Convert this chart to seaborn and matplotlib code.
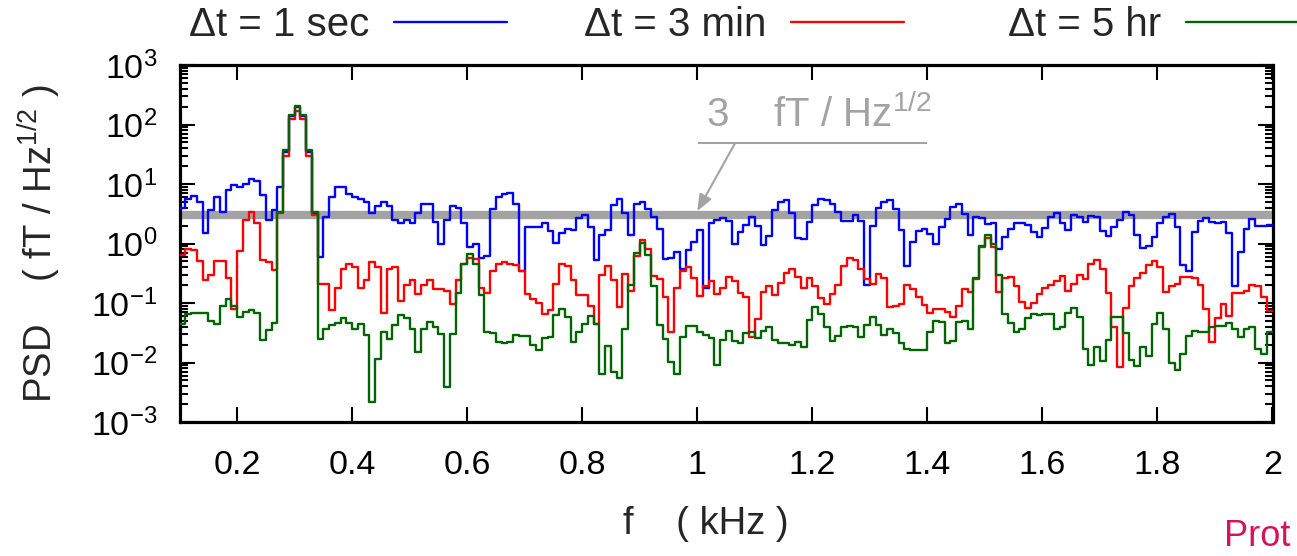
import numpy as np
import pandas as pd
import matplotlib
matplotlib.use("Agg")
import matplotlib.pyplot as plt
import seaborn as sns
from matplotlib.lines import Line2D
from matplotlib.ticker import FixedLocator, FuncFormatter, LogLocator, NullFormatter

# ---------------------------------------------------------------- data
# spectrum bins: 0.01 kHz wide, left edges from 0.10 to 1.99 kHz
f_first, f_last, n_bins = 0.10, 2.00, 190

series_labels = ["Δt = 1 sec", "Δt = 3 min", "Δt = 5 hr"]
series_colors = ["#0000ff", "#ff0000", "#006400"]

psd_1sec = [
    4.0, 5.5, 6.3, 5.0, 1.5, 3.7, 6.1, 3.4, 7.9, 9.6,
    9.0, 10, 12, 11.4, 6.5, 2.5, 3.7, 8.8, 35, 140,
    200, 140, 35, 3.3, 0.60, 2.8, 6.1, 8.8, 8.8, 6.8,
    6.1, 5.7, 5.0, 3.3, 4.2, 4.9, 4.2, 2.5, 2.2, 2.5,
    2.2, 3.2, 4.7, 4.7, 2.3, 1.0, 2.5, 4.3, 3.9, 2.2,
    0.86, 0.98, 0.58, 0.62, 3.75, 6.1, 6.8, 7.15, 4.6, 0.34,
    1.9, 1.9, 1.87, 2.2, 1.64, 1.03, 1.52, 1.73, 1.69, 2.65,
    3.0, 1.9, 0.53, 1.39, 1.69, 4.4, 5.5, 3.2, 1.39, 4.6,
    4.9, 3.75, 2.8, 1.73, 0.54, 0.58, 0.73, 0.37, 0.78, 1.07,
    1.69, 0.18, 2.2, 2.5, 2.65, 2.4, 1.0, 1.55, 2.05, 2.75,
    1.97, 0.94, 1.34, 3.7, 5.0, 5.3, 3.3, 1.22, 1.18, 2.3,
    4.4, 5.5, 5.3, 4.7, 3.4, 2.4, 2.4, 3.0, 2.4, 0.2,
    1.97, 3.9, 5.0, 5.4, 3.75, 1.69, 0.42, 1.07, 1.64, 1.73,
    1.44, 1.0, 1.87, 2.55, 4.05, 4.7, 3.1, 1.39, 2.75, 2.65,
    2.13, 2.2, 0.8, 1.3, 1.73, 2.25, 2.25, 2.05, 1.58, 1.3,
    1.8, 2.75, 3.3, 2.25, 1.69, 3.0, 2.8, 2.3, 2.9, 2.75,
    1.64, 1.34, 1.87, 2.5, 3.4, 3.0, 1.39, 0.83, 0.91, 1.27,
    2.25, 2.8, 3.1, 1.9, 0.44, 0.34, 1.58, 2.4, 2.65, 2.3,
    2.25, 2.3, 1.52, 0.19, 0.73, 1.73, 2.55, 1.97, 1.97, 2.05,
]

psd_3min = [
    0.64, 0.80, 0.78, 0.50, 0.24, 0.30, 0.51, 0.51, 0.26, 0.078,
    0.76, 2.5, 3.4, 2.2, 0.53, 0.48, 0.36, 3.2, 30, 125,
    170, 125, 30, 3.0, 0.21, 0.21, 0.076, 0.18, 0.37, 0.45,
    0.41, 0.18, 0.24, 0.49, 0.41, 0.067, 0.37, 0.40, 0.11, 0.20,
    0.24, 0.14, 0.20, 0.24, 0.17, 0.17, 0.16, 0.098, 0.24, 0.46,
    0.58, 0.54, 0.18, 0.15, 0.34, 0.45, 0.48, 0.46, 0.43, 0.35,
    0.14, 0.115, 0.10, 0.065, 0.076, 0.21, 0.45, 0.42, 0.24, 0.136,
    0.136, 0.089, 0.044, 0.30, 0.42, 0.24, 0.087, 0.31, 0.16, 0.62,
    1.15, 0.80, 0.28, 0.25, 0.128, 0.032, 0.177, 0.35, 0.41, 0.26,
    0.13, 0.19, 0.23, 0.14, 0.177, 0.27, 0.23, 0.15, 0.128, 0.027,
    0.053, 0.155, 0.19, 0.136, 0.22, 0.32, 0.37, 0.27, 0.18, 0.26,
    0.19, 0.12, 0.096, 0.142, 0.20, 0.42, 0.58, 0.53, 0.38, 0.25,
    0.21, 0.31, 0.26, 0.085, 0.089, 0.096, 0.20, 0.17, 0.125, 0.092,
    0.067, 0.078, 0.078, 0.071, 0.059, 0.089, 0.17, 0.155, 0.25, 0.86,
    1.22, 0.86, 0.155, 0.26, 0.27, 0.19, 0.105, 0.081, 0.10, 0.142,
    0.177, 0.20, 0.23, 0.28, 0.16, 0.21, 0.30, 0.25, 0.45, 0.53,
    0.37, 0.15, 0.04, 0.0085, 0.081, 0.19, 0.26, 0.32, 0.43, 0.51,
    0.40, 0.155, 0.19, 0.21, 0.27, 0.27, 0.26, 0.20, 0.078, 0.0225,
    0.057, 0.096, 0.06, 0.149, 0.149, 0.16, 0.20, 0.19, 0.128, 0.074,
]

psd_5hr = [
    0.045, 0.065, 0.068, 0.068, 0.068, 0.05, 0.045, 0.089, 0.115, 0.089,
    0.059, 0.071, 0.076, 0.068, 0.024, 0.035, 0.046, 3.4, 37, 145,
    205, 145, 37, 3.4, 0.0245, 0.036, 0.043, 0.047, 0.057, 0.047,
    0.037, 0.045, 0.029, 0.0022, 0.0113, 0.032, 0.025, 0.043, 0.063, 0.057,
    0.036, 0.015, 0.036, 0.048, 0.039, 0.03, 0.0039, 0.03, 0.149, 0.45,
    0.67, 0.45, 0.136, 0.033, 0.031, 0.0225, 0.021, 0.0225, 0.029, 0.028,
    0.028, 0.0195, 0.0162, 0.0255, 0.027, 0.063, 0.078, 0.059, 0.0217, 0.032,
    0.044, 0.06, 0.044, 0.0064, 0.0186, 0.007, 0.0055, 0.036, 0.2, 0.68,
    1.03, 0.64, 0.19, 0.043, 0.0245, 0.0103, 0.0064, 0.027, 0.041, 0.041,
    0.032, 0.029, 0.0255, 0.0091, 0.024, 0.034, 0.023, 0.021, 0.031, 0.033,
    0.0255, 0.034, 0.039, 0.024, 0.0215, 0.021, 0.0195, 0.0225, 0.018, 0.052,
    0.085, 0.065, 0.04, 0.023, 0.028, 0.04, 0.041, 0.039, 0.027, 0.043,
    0.059, 0.043, 0.029, 0.037, 0.031, 0.021, 0.0167, 0.0163, 0.016, 0.0163,
    0.033, 0.05, 0.048, 0.0215, 0.023, 0.048, 0.05, 0.037, 0.26, 0.91,
    1.39, 0.98, 0.3, 0.065, 0.047, 0.033, 0.036, 0.055, 0.066, 0.063,
    0.066, 0.066, 0.037, 0.04, 0.068, 0.081, 0.059, 0.0167, 0.0091, 0.0185,
    0.0104, 0.024, 0.059, 0.059, 0.031, 0.011, 0.0087, 0.018, 0.0129, 0.045,
    0.068, 0.036, 0.01, 0.0075, 0.014, 0.028, 0.034, 0.032, 0.033, 0.04,
    0.041, 0.041, 0.047, 0.037, 0.027, 0.037, 0.04, 0.017, 0.014, 0.032,
]

ref_level = 3.0          # fT / Hz^1/2 reference line
ref_label = r"3    fT / Hz$^{\mathsf{1/2}}$"
x_ticks = [0.2, 0.4, 0.6, 0.8, 1.0, 1.2, 1.4, 1.6, 1.8, 2.0]

# ---------------------------------------------------------------- style
sns.set_style("ticks")
plt.rcParams["font.family"] = ["Liberation Sans", "DejaVu Sans"]
plt.rcParams["mathtext.fontset"] = "custom"
plt.rcParams["mathtext.rm"] = "Liberation Sans"
plt.rcParams["mathtext.sf"] = "Liberation Sans"
plt.rcParams["mathtext.it"] = "Liberation Sans:italic"
plt.rcParams["mathtext.default"] = "regular"
plt.rcParams["axes.unicode_minus"] = False

FS_TICK = 24.5
FS_TEXT = 27.5
FS_LEGEND = 29
GRAY = "#a3a3a3"
W, H = 1297, 556

# ---------------------------------------------------------------- table
edges = np.round(np.linspace(f_first, f_last, n_bins + 1), 3)
frames = []
for label, vals in zip(series_labels, [psd_1sec, psd_3min, psd_5hr]):
    frames.append(pd.DataFrame({
        "f": edges,
        "psd": list(vals) + [vals[-1]],
        "series": label,
    }))
df = pd.concat(frames, ignore_index=True)

# ---------------------------------------------------------------- figure
fig = plt.figure(figsize=(W / 100, H / 100), dpi=100)
ax = fig.add_axes([179.5 / W, 1 - 422 / H, 1093 / W, 357 / H])

ax.axhline(ref_level, color=GRAY, lw=6, zorder=1)

sns.lineplot(
    data=df, x="f", y="psd", hue="series", hue_order=series_labels,
    palette=series_colors, estimator=None, sort=False,
    drawstyle="steps-post", linewidth=1.7, legend=False, ax=ax, zorder=3,
)

ax.set_yscale("log")
ax.set_xlim(f_first, f_last)
ax.set_ylim(1e-3, 1e3)

# ticks: inward on all four sides
ax.xaxis.set_major_locator(FixedLocator(x_ticks))
ax.xaxis.set_major_formatter(FuncFormatter(lambda v, p: f"{v:g}"))
ax.yaxis.set_major_locator(LogLocator(base=10, numticks=10))
ax.yaxis.set_minor_locator(LogLocator(base=10, subs=np.arange(2, 10), numticks=20))
ax.yaxis.set_major_formatter(FuncFormatter(lambda v, p: r"$10^{%d}$" % round(np.log10(v))))
ax.yaxis.set_minor_formatter(NullFormatter())
ax.tick_params(axis="both", which="both", direction="in", top=True, right=True,
               width=1.5, colors="black", labelsize=FS_TICK)
ax.tick_params(axis="both", which="major", length=11)
ax.tick_params(axis="both", which="minor", length=6)
ax.tick_params(axis="x", which="major", pad=20)
ax.tick_params(axis="y", which="major", pad=16)
for sp in ax.spines.values():
    sp.set_linewidth(2.3)
    sp.set_color("black")

ax.set_xlabel("f    ( kHz )", fontsize=FS_TEXT)
ax.set_ylabel("PSD    ( fT / Hz$^{1/2}$ )", fontsize=FS_TEXT)
ax.xaxis.set_label_coords((706 - 179.5) / 1093, (422 - 506) / 357)
ax.xaxis.label.set_va("top")
ax.yaxis.set_label_coords((63 - 179.5) / 1093, 0.5)

# reference-level annotation
ax.text(1.015, 145, ref_label, color=GRAY, fontsize=FS_TEXT + 1.5,
        ha="left", va="center")
ax.hlines(49, 1.002, 1.40, color=GRAY, lw=1.5)
ax.annotate("", xy=(1.0, 3.5), xytext=(1.066, 49),
            arrowprops=dict(arrowstyle="-|>,head_length=1.0,head_width=0.4",
                            color=GRAY, lw=1.5, shrinkA=0, shrinkB=0))

# legend row above the frame: text right-aligned before each key
key_ends = [507, 904, 1299]
for label, color, xe in zip(series_labels, series_colors, key_ends):
    fig.legend(handles=[Line2D([], [], color=color, lw=1.7)], labels=[label],
               loc="center right", bbox_to_anchor=(xe / W, 1 - 25 / H),
               markerfirst=False, frameon=False, fontsize=FS_LEGEND,
               handlelength=2.8, handletextpad=0.62,
               borderpad=0, borderaxespad=0)

fig.text(1224 / W, 1 - 546 / H, "Prot", color="#d4145a", fontsize=26,
         ha="left", va="baseline")

fig.savefig("out.png", dpi=100)
